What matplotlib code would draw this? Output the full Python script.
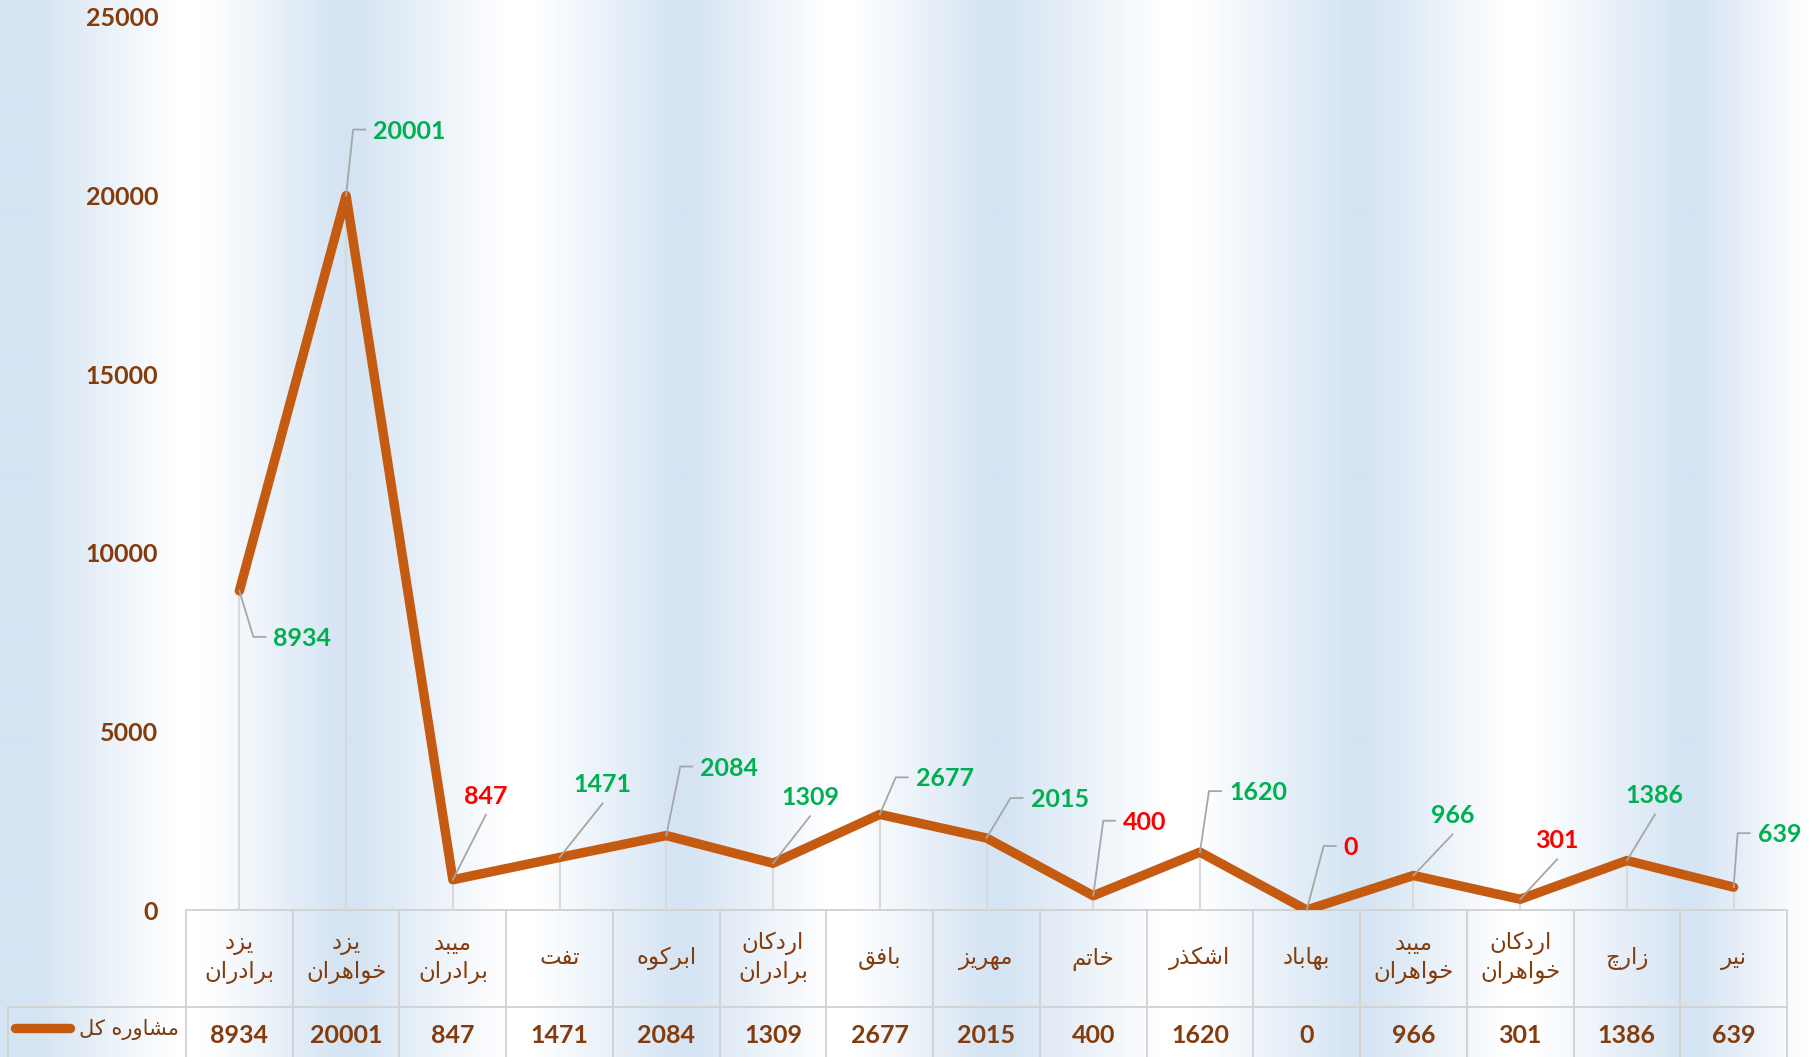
import numpy as np
import matplotlib
matplotlib.use("Agg")
import matplotlib.pyplot as plt
from matplotlib.lines import Line2D
from matplotlib.transforms import blended_transform_factory, IdentityTransform

# ---------------- data ----------------
categories = ["یزد برادران", "یزد خواهران", "میبد برادران", "تفت", "ابرکوه",
              "اردکان برادران", "بافق", "مهریز", "خاتم", "اشکذر", "بهاباد",
              "میبد خواهران", "اردکان خواهران", "زارچ", "نیر"]
values = [8934, 20001, 847, 1471, 2084, 1309, 2677, 2015, 400, 1620, 0, 966, 301, 1386, 639]
series_name = "مشاوره کل"
label_colors = ["#00B050", "#00B050", "#FF0000", "#00B050", "#00B050", "#00B050", "#00B050",
                "#00B050", "#FF0000", "#00B050", "#FF0000", "#00B050", "#FF0000", "#00B050", "#00B050"]
y_ticks = [0, 5000, 10000, 15000, 20000, 25000]

# label placement (pixel offsets from point) and leader style
label_offsets = [(34, -46), (27, 66), (33, 85), (43, 74), (34, 69), (37, 67), (36, 37),
                 (44, 40), (30, 75), (29, 61), (37, 64), (39, 61), (37, 60), (28, 66), (24, 54)]
label_styles = ["e", "e", "d", "d", "e", "d", "e", "e", "e", "e", "e", "d", "d", "d", "e"]

# ---------------- simple Persian shaping (presentation forms + RTL order) ----------------
FORMS = {
    'ا': (0xFE8D, 0xFE8E, None, None),
    'ب': (0xFE8F, 0xFE90, 0xFE91, 0xFE92),
    'ت': (0xFE95, 0xFE96, 0xFE97, 0xFE98),
    'خ': (0xFEA5, 0xFEA6, 0xFEA7, 0xFEA8),
    'د': (0xFEA9, 0xFEAA, None, None),
    'ذ': (0xFEAB, 0xFEAC, None, None),
    'ر': (0xFEAD, 0xFEAE, None, None),
    'ز': (0xFEAF, 0xFEB0, None, None),
    'ش': (0xFEB5, 0xFEB6, 0xFEB7, 0xFEB8),
    'ف': (0xFED1, 0xFED2, 0xFED3, 0xFED4),
    'ق': (0xFED5, 0xFED6, 0xFED7, 0xFED8),
    'ک': (0xFB8E, 0xFB8F, 0xFB90, 0xFB91),
    'ل': (0xFEDD, 0xFEDE, 0xFEDF, 0xFEE0),
    'م': (0xFEE1, 0xFEE2, 0xFEE3, 0xFEE4),
    'ن': (0xFEE5, 0xFEE6, 0xFEE7, 0xFEE8),
    'ه': (0xFEE9, 0xFEEA, 0xFEEB, 0xFEEC),
    'و': (0xFEED, 0xFEEE, None, None),
    'ی': (0xFBFC, 0xFBFD, 0xFBFE, 0xFBFF),
    'چ': (0xFB7A, 0xFB7B, 0xFB7C, 0xFB7D),
}


def shape(word):
    out = []
    n = len(word)
    for i, ch in enumerate(word):
        if ch not in FORMS:
            out.append(ch)
            continue
        iso, fin, ini, med = FORMS[ch]
        prev = word[i - 1] if i > 0 else None
        nxt = word[i + 1] if i < n - 1 else None
        jp = prev in FORMS and FORMS[prev][2] is not None
        jn = ini is not None and nxt in FORMS
        if jp and jn:
            c = med
        elif jp:
            c = fin
        elif jn:
            c = ini
        else:
            c = iso
        out.append(chr(c))
    return "".join(reversed(out))


def rtl_lines(text):
    return "\n".join(shape(w) for w in text.split(" "))


# ---------------- figure ----------------
W, H = 1816, 1057
DPI = 100
fig = plt.figure(figsize=(W / DPI, H / DPI), dpi=DPI)

BROWN = "#843C0C"
LINE = "#C55A11"
NUMFONT = ["Lato", "DejaVu Sans"]
ARFONT = ["DejaVu Sans"]

# background gradient stripes (soft triangular wave)
bg = fig.add_axes([0, 0, 1, 1], zorder=0)
bg.set_xlim(0, W)
bg.set_ylim(H, 0)
bg.axis("off")
xs = np.arange(W)
blue_c = [30, 347, 683, 996, 1360, 1690]
white_c = [190, 520, 840, 1180, 1520, 1816]
knots = [0] + sorted(blue_c + white_c)
vals = [0] + [0 if k in blue_c else 1 for k in sorted(blue_c + white_c)]
f = np.interp(xs, knots, vals)
f = np.clip(f * 1.15 - 0.05, 0, 1)
blue = np.array([213, 228, 243]) / 255.0
white = np.array([255, 255, 255]) / 255.0
row = blue[None, :] * (1 - f[:, None]) + white[None, :] * f[:, None]
img = np.repeat(row[None, :, :], 4, axis=0)
bg.imshow(img, extent=[0, W, H, 0], aspect="auto", interpolation="bilinear")

# plot area
left_px, right_px, top_px, bottom_px = 186, 1787, 17, 910
ax = fig.add_axes([left_px / W, (H - bottom_px) / H, (right_px - left_px) / W,
                   (bottom_px - top_px) / H], zorder=1)
ax.patch.set_alpha(0)
ax.set_xlim(-0.5, len(categories) - 0.5)
ax.set_ylim(0, 25000)
for s in ax.spines.values():
    s.set_visible(False)
ax.set_xticks([])
ax.set_yticks(y_ticks)
ax.set_yticklabels([str(t) for t in y_ticks], fontfamily=NUMFONT, fontweight="bold",
                   fontsize=18, color=BROWN)
ax.tick_params(axis="y", length=0, pad=20)

x = np.arange(len(categories))
ax.vlines(x, 0, values, color="#D9D9D9", lw=1.5, zorder=1)
ax.plot(x, values, color=LINE, lw=6.8, solid_capstyle="round", solid_joinstyle="round",
        zorder=3)

# data labels with leader lines
ident = IdentityTransform()
for i, v in enumerate(values):
    px, py = ax.transData.transform((i, v))
    dx, dy = label_offsets[i]
    if label_styles[i] == "e":
        lx = [px, px + dx - 20, px + dx - 8]
        ly = [py, py + dy, py + dy]
        ha = "left"
    else:
        lx = [px, px + dx]
        ly = [py, py + dy - 20]
        ha = "center"
    fig.add_artist(Line2D(lx, ly, transform=ident, color="#A6A6A6", lw=1.3, zorder=4))
    ax.annotate(str(v), xy=(i, v), xytext=(dx, dy - 9), textcoords="offset pixels",
                ha=ha, va="baseline", fontfamily=NUMFONT, fontweight="bold", fontsize=18,
                color=label_colors[i], zorder=5, annotation_clip=False)

# ---------------- data table ----------------
tx = blended_transform_factory(ax.transData, bg.transData)
grid_c = "#D3D3D3"
row_top, row_mid, row_bot = 910, 1007, 1062
bg.add_line(Line2D([left_px, right_px], [row_top, row_top], color=grid_c, lw=1.4))
bg.add_line(Line2D([8, right_px], [row_mid, row_mid], color=grid_c, lw=1.4))
bg.add_line(Line2D([8, 8], [row_mid, row_bot], color=grid_c, lw=1.4))
for k in range(len(categories) + 1):
    fig.add_artist(Line2D([k - 0.5, k - 0.5], [row_top, row_bot], transform=tx,
                          color=grid_c, lw=1.4, zorder=2))

for i, (c, v) in enumerate(zip(categories, values)):
    fig.text(i, 958, rtl_lines(c), transform=tx, ha="center", va="center",
             fontfamily=ARFONT, fontsize=16.5, color=BROWN, linespacing=1.3, zorder=3)
    fig.text(i, 1043, str(v), transform=tx, ha="center", va="baseline",
             fontfamily=NUMFONT, fontweight="bold", fontsize=18, color=BROWN, zorder=3)

# legend key
bg.add_line(Line2D([15, 70], [1028, 1028], color=LINE, lw=6.8, solid_capstyle="round"))
bg.text(179, 1030, shape(series_name), ha="right", va="center", fontfamily=ARFONT,
        fontsize=15, color="#7A3A10")

fig.savefig("out.png", dpi=DPI)
